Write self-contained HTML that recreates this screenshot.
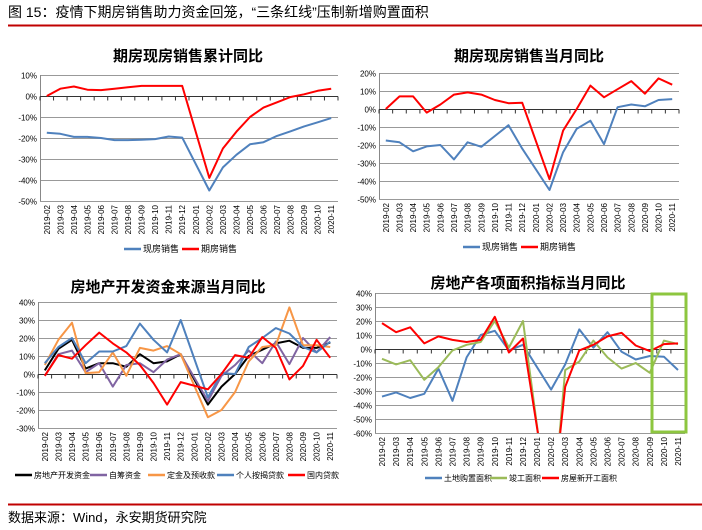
<!DOCTYPE html>
<html><head><meta charset="utf-8">
<style>
body{margin:0;background:#fff;width:702px;height:530px;overflow:hidden;font-family:"Liberation Sans","Noto Sans CJK SC",sans-serif;}
svg{position:absolute;left:0;top:0}
</style></head>
<body>
<svg id="s" width="702" height="530" font-family="Liberation Sans, Noto Sans CJK SC, sans-serif">
<text x="8" y="17" font-size="14" fill="#000">图 15：疫情下期房销售助力资金回笼，“三条红线”压制新增购置面积</text>
<line x1="8" y1="25.5" x2="702" y2="25.5" stroke="#c00000" stroke-width="2"/>
<line x1="8" y1="504.5" x2="702" y2="504.5" stroke="#c00000" stroke-width="2"/>
<text x="8" y="522" font-size="13" fill="#000">数据来源：Wind，永安期货研究院</text>
</svg>
<script>
const cats=["2019-02","2019-03","2019-04","2019-05","2019-06","2019-07","2019-08","2019-09","2019-10","2019-11","2019-12","2020-01","2020-02","2020-03","2020-04","2020-05","2020-06","2020-07","2020-08","2020-09","2020-10","2020-11"];
const c1Spot=[-17.5,-18,-19.5,-19.5,-20,-21,-21,-20.8,-20.5,-19.3,-19.8,null,-45,-34,-28,-23,-22,-19,-16.8,-14.5,-12.5,-10.5];
const c1Future=[0,3.5,4.5,3,2.8,3.5,4.2,4.8,4.8,4.8,4.8,null,-39,-25,-17,-10,-5.5,-3,-0.5,0.8,2.5,3.5];
const c2Spot=[-17.5,-18.5,-23.5,-20.8,-20,-28,-18.5,-21,-15,-9,-22,null,-45,-24,-11,-6.5,-19.5,1,2.5,1.5,5,5.5];
const c2Future=[0,7,7,-2,2.5,8,9.2,8,5,3.2,3.5,null,-39,-12,0,13,6.5,11,15.5,8.5,17,13.5];
const c3Total=[2,14,19,3,6,6,4,11,6,7,11,null,-17,-7,0,10,13.5,17,18.5,14.5,14.5,17.5];
const c3Self=[-1,11,13,1,6,-7,5,6,1,8,11,null,-15,-1,5,13,6,18,5.5,20,12,20.5];
const c3Deposit=[5,19,28.5,0.5,1,12,-1,14.5,13,15.5,11,null,-24,-20,-10,7,15,16,37,16,16,15];
const c3Mortgage=[6,15,20,6,12.5,12.5,15.5,28,19,12,30,null,-13,0.5,0,15,20,25.5,22.5,15,12,18];
const c3Loan=[-1,10.5,8.5,16,23,17,12,5,-5,-17,-4.5,null,-8.5,0,10.5,9,20.5,14.5,-3,4.5,19,9];
const c4Land=[-34,-31,-35,-32,-14,-37,-6,10,13,-1,3,null,-29,-11,14,1,12,-2,-7.5,-5,-5.5,-15];
const c4Done=[-7,-11,-8,-22,-13,-1,3,5,20,1,20,null,-130,-15,-9,6,-6,-14,-10,-17,6,3.5];
const c4Start=[18.5,12,15.5,4,9,6.5,5,6.5,23,-2.5,7.5,null,-120,-27,-1,3,9,11.5,2.5,-1.5,3.5,4];
const c1Ticks=[10,0,-10,-20,-30,-40,-50];
const c2Ticks=[20,10,0,-10,-20,-30,-40,-50];
const c3Ticks=[40,30,20,10,0,-10,-20,-30];
const c4Ticks=[40,30,20,10,0,-10,-20,-30,-40,-50,-60];

const NS="http://www.w3.org/2000/svg";
const svg=document.getElementById('s');
function mk(tag,attrs,parent){const e=document.createElementNS(NS,tag);for(const k in attrs)e.setAttribute(k,attrs[k]);(parent||svg).appendChild(e);return e;}

function chart(cfg){
  const g=mk('g',{});
  
  
  const vmax=cfg.ticks[0],vmin=cfg.ticks[cfg.ticks.length-1];
  const y=v=>cfg.top+(vmax-v)/(vmax-vmin)*(cfg.bottom-cfg.top);
  const bw=(cfg.x1-cfg.x0)/cats.length;
  const x=i=>cfg.x0+bw*(i+0.5);
  const t=mk('text',{x:cfg.tx,y:cfg.ty,'font-size':15,'font-weight':'bold','text-anchor':'middle',fill:'#000'},g);
  t.textContent=cfg.title;
  
  
  cfg.ticks.forEach(v=>{
    const yy=Math.round(y(v))+0.5;
    if(v!==0){const l=mk('line',{x1:cfg.x0,x2:cfg.x1,y1:yy,y2:yy,stroke:'#999','stroke-width':1},g);
      
      }
    const tl=mk('text',{x:cfg.x0-3,y:yy+3,'font-size':8,'text-anchor':'end',fill:'#000'},g);
    tl.textContent=v+'%';
    
    
  });
  const ax=mk('line',{x1:cfg.x0+0.5,x2:cfg.x0+0.5,y1:cfg.top,y2:cfg.bottom,stroke:'#888'},g);
  
  
  const zy=Math.round(y(0))+0.5;
  const za=mk('line',{x1:cfg.x0,x2:cfg.x1,y1:zy,y2:zy,stroke:'#333'},g);
  
  
  for(let i=0;i<=cats.length;i++){const tk=mk('line',{x1:cfg.x0+bw*i,x2:cfg.x0+bw*i,y1:zy,y2:zy+4,stroke:'#333'},g);
    
    }
  cats.forEach((c,i)=>{
    const xx=x(i)+3,yy=cfg.bottom+4;
    const tl=mk('text',{x:xx,y:yy,'font-size':8,'text-anchor':'end',fill:'#000',transform:`rotate(-90 ${xx} ${yy})`},g);
    tl.textContent=c;
    
    
  });
  const cid='clip-'+cfg.name;
  const cp=mk('clipPath',{id:cid},g);
  mk('rect',{x:cfg.x0,y:cfg.top-3,width:cfg.x1-cfg.x0,height:cfg.bottom-cfg.top+3},cp);
  cfg.series.forEach(s=>{
    let d='';
    s.data.forEach((v,i)=>{if(v===null)return;d+=(d?'L':'M')+x(i).toFixed(1)+' '+y(v).toFixed(1);});
    const p=mk('path',{d,fill:'none',stroke:s.color,'stroke-width':s.w||2,'stroke-linejoin':'round','clip-path':`url(#${cid})`},g);
    
    
    const le=mk('g',{},g);
    
    
    mk('line',{x1:s.lx,x2:s.lx+17,y1:cfg.ly,y2:cfg.ly,stroke:s.color,'stroke-width':2.5},le);
    const lt=mk('text',{x:s.lx+19,y:cfg.ly+3,'font-size':cfg.lf||9,fill:'#000'},le);
    lt.textContent=s.label;
  });
  return {x,y,g};
}
chart({name:'chart-cumulative-sales',title:'期房现房销售累计同比',tx:188,ty:61,x0:40,x1:338,top:75,bottom:201,ticks:c1Ticks,ly:249,
  series:[{id:'line-spot',label:'现房销售',data:c1Spot,color:'#4f81bd',lx:124},
          {id:'line-future',label:'期房销售',data:c1Future,color:'#ff0000',lx:182}]});
chart({name:'chart-monthly-sales',title:'期房现房销售当月同比',tx:529,ty:61,x0:379,x1:679,top:73,bottom:199,ticks:c2Ticks,ly:247,
  series:[{id:'line-spot',label:'现房销售',data:c2Spot,color:'#4f81bd',lx:463},
          {id:'line-future',label:'期房销售',data:c2Future,color:'#ff0000',lx:521}]});
chart({name:'chart-funding-sources',title:'房地产开发资金来源当月同比',tx:168,ty:292,x0:38,x1:337,top:302,bottom:428,ticks:c3Ticks,ly:475,lf:8,
  series:[{id:'line-total-funds',label:'房地产开发资金',data:c3Total,color:'#000',lx:15},
          {id:'line-self-raised',label:'自筹资金',data:c3Self,color:'#8064a2',lx:90},
          {id:'line-deposits',label:'定金及预收款',data:c3Deposit,color:'#f79646',lx:148},
          {id:'line-mortgage',label:'个人按揭贷款',data:c3Mortgage,color:'#4f81bd',lx:217},
          {id:'line-domestic-loans',label:'国内贷款',data:c3Loan,color:'#ff0000',lx:288}]});
chart({name:'chart-area-indicators',title:'房地产各项面积指标当月同比',tx:528,ty:288,x0:375,x1:685,top:293,bottom:433,ticks:c4Ticks,ly:478,lf:8,
  series:[{id:'line-land-purchase',label:'土地购置面积',data:c4Land,color:'#4f81bd',lx:425},
          {id:'line-completed',label:'竣工面积',data:c4Done,color:'#9bbb59',lx:490},
          {id:'line-new-starts',label:'房屋新开工面积',data:c4Start,color:'#ff0000',lx:542}]});
const hl=mk('rect',{x:652,y:294,width:34,height:138,fill:'none',stroke:'#8dc63f','stroke-width':3});


</script>
</body></html>
